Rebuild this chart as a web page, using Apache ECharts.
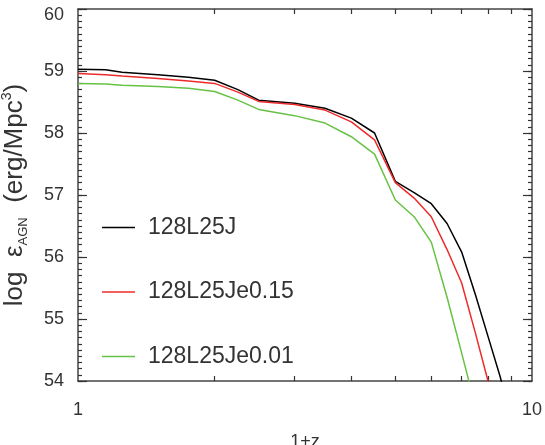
<!DOCTYPE html>
<html>
<head>
<meta charset="utf-8">
<script src="https://cdn.jsdelivr.net/npm/echarts@6/dist/echarts.min.js"></script>
<style>
html,body{margin:0;padding:0;background:#fff;}
#chart{width:545px;height:445px;}
</style>
</head>
<body>
<div id="chart"></div>
<script>
// 1+z sample points
const onePlusZ = [1, 1.15, 1.25, 1.5, 1.75, 2, 2.25, 2.5, 3, 3.5, 4, 4.5, 5, 5.5, 6, 6.5, 7, 7.5, 8, 8.5, 9];
// log eps_AGN for each run
const run128L25J      = [59.03, 59.02, 58.98, 58.94, 58.90, 58.85, 58.70, 58.53, 58.48, 58.40, 58.24, 58.00, 57.22, 57.04, 56.86, 56.54, 56.08, 55.40, 54.72, 54.08, 53.40];
const run128L25Je015  = [58.96, 58.94, 58.92, 58.88, 58.84, 58.80, 58.66, 58.51, 58.46, 58.37, 58.18, 57.89, 57.20, 56.95, 56.65, 56.12, 55.58, 54.78, 54.00, 53.30, 52.60];
const run128L25Je001  = [58.80, 58.79, 58.77, 58.75, 58.72, 58.67, 58.53, 58.38, 58.28, 58.16, 57.94, 57.66, 56.92, 56.65, 56.24, 55.35, 54.45, 53.60, 52.80, 52.00, 51.20];
const seriesNames = ['128L25J', '128L25Je0.15', '128L25Je0.01'];
const seriesColors = ['#000000', '#ee2a2a', '#66c244'];
const yTicks = [54, 55, 56, 57, 58, 59, 60];
const xLabels = [1, 10];
const xMinorTicks = [2, 3, 4, 5, 6, 7, 8, 9];

const pairs = arr => onePlusZ.map((x, i) => [x, arr[i]]);
const allData = [run128L25J, run128L25Je015, run128L25Je001];

const axisCol = '#444';
const tickCol = '#333';
const textCol = '#333';
const font = 'Liberation Sans, Arial, Helvetica, sans-serif';

// tick-only axes pushed inside the plot box (negative offset, ticks point outward onto the frame)
function xTickAxis(pos, len) {
  return {
    type: 'log', logBase: 10, min: 1, max: 10, position: pos, offset: -len,
    axisLine: {show: false, onZero: false},
    axisTick: {show: true, inside: false, length: len, customValues: xMinorTicks, lineStyle: {color: tickCol, width: 1.2}},
    axisLabel: {show: false}, splitLine: {show: false}, minorTick: {show: false}
  };
}
function yTickAxis(pos, len, step) {
  return {
    type: 'value', min: 54, max: 60, interval: step, position: pos, offset: -len,
    axisLine: {show: false, onZero: false},
    axisTick: {show: true, inside: false, length: len, lineStyle: {color: tickCol, width: 1.2}},
    minorTick: {show: false},
    axisLabel: {show: false}, splitLine: {show: false}
  };
}

const chart = echarts.init(document.getElementById('chart'), null, {renderer: 'canvas'});
chart.setOption({
  animation: false,
  backgroundColor: '#fff',
  grid: {left: 78, right: 13, top: 9, bottom: 64, containLabel: false, outerBoundsMode: 'none'},
  legend: {
    orient: 'vertical',
    left: 97,
    top: 211,
    itemWidth: 33,
    itemHeight: 14,
    itemGap: 41.5,
    data: seriesNames,
    textStyle: {fontFamily: font, fontSize: 23, color: textCol, padding: [0, 0, 0, 8], lineHeight: 22},
    icon: 'path://M0,13 L33,13 L33,14.5 L0,14.5 Z'
  },
  xAxis: [
    {
      type: 'log', logBase: 10, min: 1, max: 10, position: 'bottom',
      name: '1+z', nameLocation: 'middle', nameGap: 52,
      nameTextStyle: {fontFamily: font, fontSize: 18, color: textCol},
      axisLine: {show: true, onZero: false, lineStyle: {color: axisCol, width: 1.5}},
      axisTick: {show: false},
      axisLabel: {show: true, customValues: xLabels, margin: 20, fontFamily: font, fontSize: 18, color: textCol},
      minorTick: {show: false},
      splitLine: {show: false}
    },
    {
      type: 'log', logBase: 10, min: 1, max: 10, position: 'top',
      axisLine: {show: true, onZero: false, lineStyle: {color: axisCol, width: 1.5}},
      axisTick: {show: false},
      axisLabel: {show: false},
      splitLine: {show: false}
    },
    xTickAxis('bottom', 5),
    xTickAxis('top', 5)
  ],
  yAxis: [
    {
      type: 'value', min: 54, max: 60, interval: 1, position: 'left',
      name: '{a|log  ε}{s|AGN}{a|  (erg/Mpc}{p|3}{a|)}',
      nameLocation: 'middle', nameGap: 48, nameRotate: 90,
      nameTextStyle: {
        rich: {
          a: {fontFamily: font, fontSize: 26, color: textCol, lineHeight: 30, verticalAlign: 'middle'},
          s: {fontFamily: font, fontSize: 13, color: textCol, lineHeight: 30, verticalAlign: 'bottom'},
          p: {fontFamily: font, fontSize: 14, color: textCol, lineHeight: 30, verticalAlign: 'top'}
        }
      },
      axisLine: {show: true, onZero: false, lineStyle: {color: axisCol, width: 1.5}},
      axisTick: {show: false},
      minorTick: {show: false},
      axisLabel: {show: true, margin: 14, fontFamily: font, fontSize: 18, color: textCol,
        formatter: v => (v === yTicks[yTicks.length - 1] ? '{top|' + v + '}' : (yTicks.indexOf(v) >= 0 ? String(v) : '')),
        rich: {top: {fontFamily: font, fontSize: 18, color: textCol, padding: [12, 0, 0, 0]}}},
      splitLine: {show: false}
    },
    {
      type: 'value', min: 54, max: 60, interval: 1, position: 'right',
      axisLine: {show: true, onZero: false, lineStyle: {color: axisCol, width: 1.5}},
      axisTick: {show: false},
      minorTick: {show: false},
      axisLabel: {show: false},
      splitLine: {show: false}
    },
    yTickAxis('left', 9, 1),
    yTickAxis('left', 4, 0.1),
    yTickAxis('right', 9, 1),
    yTickAxis('right', 4, 0.1)
  ],
  series: seriesNames.map((name, i) => ({
    name: name,
    type: 'line',
    xAxisIndex: 0,
    yAxisIndex: 0,
    data: pairs(allData[i]),
    symbol: 'none',
    showSymbol: false,
    clip: true,
    lineStyle: {color: seriesColors[i], width: 1.5},
    itemStyle: {color: seriesColors[i]}
  }))
});
</script>
</body>
</html>
